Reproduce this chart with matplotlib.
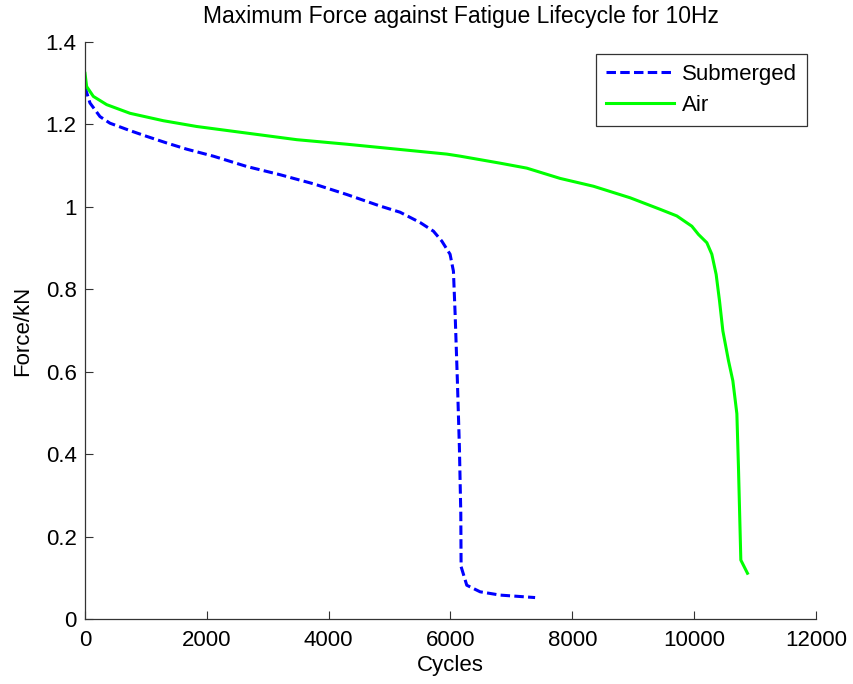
import matplotlib
matplotlib.use("Agg")
import matplotlib.pyplot as plt

# Submerged curve (cycles, force kN)
sub_cycles = [0, 82, 246, 410, 739, 1013, 1341, 1669, 2107, 2654, 3202, 3749, 4297,
              4844, 5172, 5501, 5720, 5857, 5993, 6048, 6076, 6113, 6146, 6169, 6174,
              6267, 6486, 6814, 7389]
sub_force = [1.29, 1.252, 1.219, 1.203, 1.185, 1.171, 1.155, 1.140, 1.123, 1.098, 1.078,
             1.056, 1.030, 1.002, 0.987, 0.962, 0.941, 0.917, 0.885, 0.844, 0.740, 0.578,
             0.417, 0.256, 0.127, 0.082, 0.066, 0.058, 0.052]

# Air curve
air_cycles = [0, 27, 137, 356, 739, 1286, 1834, 2654, 3476, 4297, 5118, 5939, 6158,
              6814, 7252, 7800, 8347, 8949, 9442, 9715, 9962, 10071, 10208, 10290, 10361,
              10416, 10471, 10563, 10635, 10701, 10727, 10755, 10766, 10875]
air_force = [1.324, 1.292, 1.268, 1.248, 1.227, 1.209, 1.195, 1.179, 1.163, 1.152, 1.140,
             1.128, 1.123, 1.106, 1.094, 1.069, 1.050, 1.022, 0.994, 0.978, 0.953, 0.933,
             0.913, 0.885, 0.836, 0.772, 0.699, 0.627, 0.578, 0.498, 0.369, 0.207, 0.143,
             0.111]

x_ticks = [0, 2000, 4000, 6000, 8000, 10000, 12000]
y_ticks = [0, 0.2, 0.4, 0.6, 0.8, 1.0, 1.2, 1.4]
y_tick_labels = ["0", "0.2", "0.4", "0.6", "0.8", "1", "1.2", "1.4"]

plt.rcParams['font.family'] = ['Liberation Sans', 'DejaVu Sans']

fig = plt.figure(figsize=(8.54, 6.84), dpi=100)
ax = fig.add_axes([85/854, 1-619/684, 731/854, 577/684])

ax.plot(sub_cycles, sub_force, color='#0000ff', linestyle=(0, (3.1, 1.4)), linewidth=2.2,
        label='Submerged')
ax.plot(air_cycles, air_force, color='#00ff00', linestyle='-', linewidth=2.2, label='Air')

ax.set_xlim(0, 12000)
ax.set_ylim(0, 1.4)
ax.set_xticks(x_ticks)
ax.set_xticklabels([str(v) for v in x_ticks])
ax.set_yticks(y_ticks)
ax.set_yticklabels(y_tick_labels)

for s in ['top', 'right']:
    ax.spines[s].set_visible(False)
for s in ['left', 'bottom']:
    ax.spines[s].set_color('#333333')
    ax.spines[s].set_linewidth(0.9)

ax.tick_params(direction='in', length=5.5, width=0.8, colors='#333333',
               labelcolor='black', labelsize=16)
ax.tick_params(axis='x', pad=8)
ax.tick_params(axis='y', pad=6)

fig.text(461 / 854, 1 - 17 / 684,
         'Maximum Force against Fatigue Lifecycle for 10Hz',
         fontsize=16.5, ha='center', va='center')
ax.set_xlabel('Cycles', fontsize=16, labelpad=3)
ax.set_ylabel('Force/kN', fontsize=16, labelpad=9)

leg = ax.legend(loc='upper right', bbox_to_anchor=(722/731, (619-54)/577),
                borderaxespad=0, fontsize=16, frameon=True, fancybox=False,
                edgecolor='black', handlelength=3.05, handletextpad=0.35,
                borderpad=0.45, labelspacing=0.45)
leg.get_frame().set_linewidth(0.9)

fig.savefig('out.png', dpi=100)
